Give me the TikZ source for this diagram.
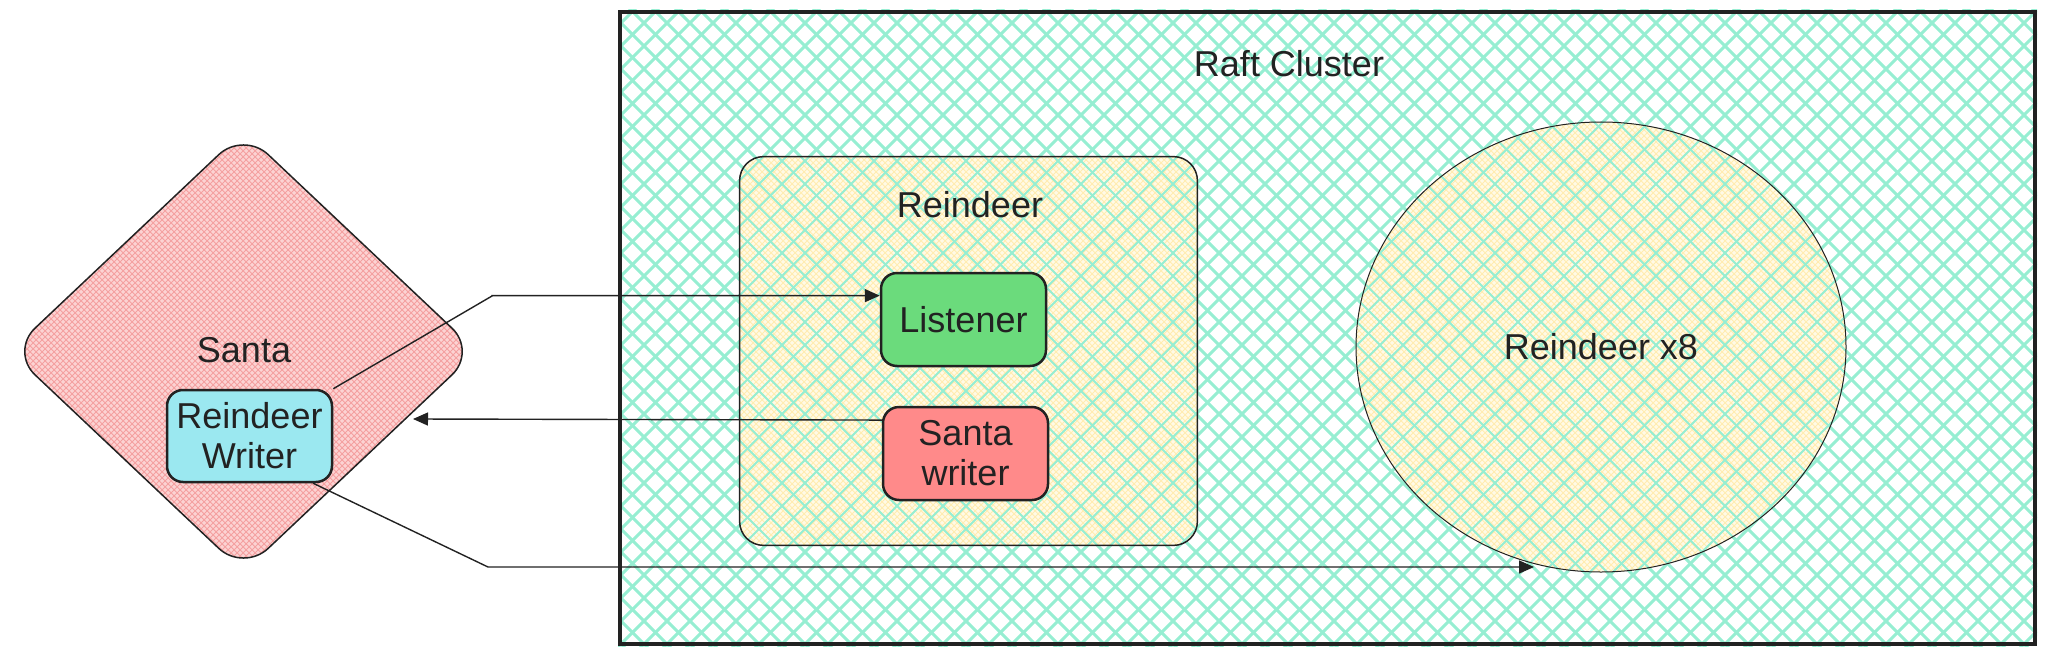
\documentclass[tikz,border=0pt]{standalone}
\usepackage{fontspec}
\setmainfont{Liberation Sans}
\usetikzlibrary{arrows.meta,shapes.geometric,patterns,calc}
\definecolor{ink}{HTML}{222222}
\definecolor{aqua}{RGB}{150,238,210}
\definecolor{pinkbase}{HTML}{FCD3D3}
\definecolor{pinkline}{HTML}{F4A0A0}
\definecolor{yellowbase}{HTML}{FFFAE6}
\definecolor{yellowline}{HTML}{FFECB0}
\definecolor{lgreen}{HTML}{6BDB7C}
\definecolor{lred}{HTML}{FF8A8A}
\definecolor{lcyan}{HTML}{9BE8F0}
\begin{document}
\begin{tikzpicture}[x=0.5pt,y=-0.5pt,
  txt/.style={font=\fontsize{18pt}{20pt}\selectfont, text=ink, align=center},
  smallbox/.style={txt, draw=ink, line width=1.25pt, rounded corners=8pt,
    minimum width=82.5pt, minimum height=46.5pt, inner sep=0pt},
  conn/.style={draw=ink, line width=0.7pt, -{Triangle[length=7.5pt,width=6.5pt]}},
  hatchline/.style={draw=aqua, line width=1.5pt},
  thinhatch/.style={draw=aqua, line width=1pt},
  yellowfill/.style={fill=yellowbase, postaction={pattern=crosshatch, pattern color=yellowline}}]
\useasboundingbox (0,0) rectangle (2049,658);

% Raft cluster hatch
\begin{scope}
  \clip (618,10) rectangle (2037,646);
  \foreach \c in {-92,-69,...,2760} {
    \draw[hatchline] (\c,0) -- ++(700,700);
    \draw[hatchline] (\c,0) -- ++(-700,700);
  }
\end{scope}
\node[draw=ink, line width=2pt, minimum width=707.5pt, minimum height=316pt,
  inner sep=0pt] (raft) at (1327.5,328) {};
\node[txt, anchor=base] (raftlabel) at (1289,77) {Raft Cluster};

% Reindeer box
\node[rounded corners=12pt, minimum width=228.5pt, minimum height=194pt, inner sep=0pt,
  yellowfill] (rbox) at (968.5,351) {};
\begin{scope}
  \clip[rounded corners=12pt] (rbox.south west) rectangle (rbox.north east);
  \foreach \c in {-92,-69,...,2760} {
    \draw[thinhatch] (\c,0) -- ++(700,700);
    \draw[thinhatch] (\c,0) -- ++(-700,700);
  }
\end{scope}
\draw[ink, line width=0.75pt, rounded corners=12pt] (rbox.south west) rectangle (rbox.north east);
\node[txt, anchor=base] (rboxlabel) at (970,217) {Reindeer};

% Reindeer x8 ellipse
\node[ellipse, minimum width=245pt, minimum height=225pt, inner sep=0pt,
  yellowfill] (herd) at (1601,347) {};
\begin{scope}
  \clip (herd.center) ellipse [x radius=245, y radius=225];
  \foreach \c in {-92,-69,...,2760} {
    \draw[thinhatch] (\c,0) -- ++(700,700);
    \draw[thinhatch] (\c,0) -- ++(-700,700);
  }
\end{scope}
\draw[ink, line width=0.5pt] (herd.center) ellipse [x radius=245, y radius=225];
\node[txt, anchor=base] (herdlabel) at (1601,359) {Reindeer x8};

% Santa diamond
\node[diamond, draw=ink, line width=0.75pt, rounded corners=17pt,
  minimum width=233.5pt, minimum height=220.5pt, inner sep=0pt,
  preaction={fill=pinkbase}, pattern=crosshatch, pattern color=pinkline] (santa) at (243.5,351.5) {};
\node[txt, anchor=base] (santalabel) at (244,362) {Santa};

% inner boxes
\node[smallbox, fill=lgreen] (listener) at (963.5,319.5) {Listener};
\node[smallbox, fill=lred] (santawriter) at (965.5,453.5) {Santa\\writer};
\node[smallbox, fill=lcyan, minimum height=46pt] (rwriter) at (249.5,436) {Reindeer\\Writer};

% connector points
\coordinate (b1) at (492,296);
\coordinate (lin) at ($(listener.north west)!0.25!(listener.south west)$);
\coordinate (swout) at ($(santawriter.north west)!0.15!(santawriter.south west)$);
\coordinate (santain) at (413,419);
\coordinate (rwout) at ($(rwriter.south west)!0.88!(rwriter.south east)$);
\coordinate (b3) at (488,567);
\coordinate (herdin) at (1534,567);

\draw[conn] (rwriter.north east) -- (b1) -- (b1 |- lin) -- (lin);
\draw[conn] (swout) -- (santain);
\draw[conn] (rwout) -- (b3) -- (herdin);
\end{tikzpicture}
\end{document}
